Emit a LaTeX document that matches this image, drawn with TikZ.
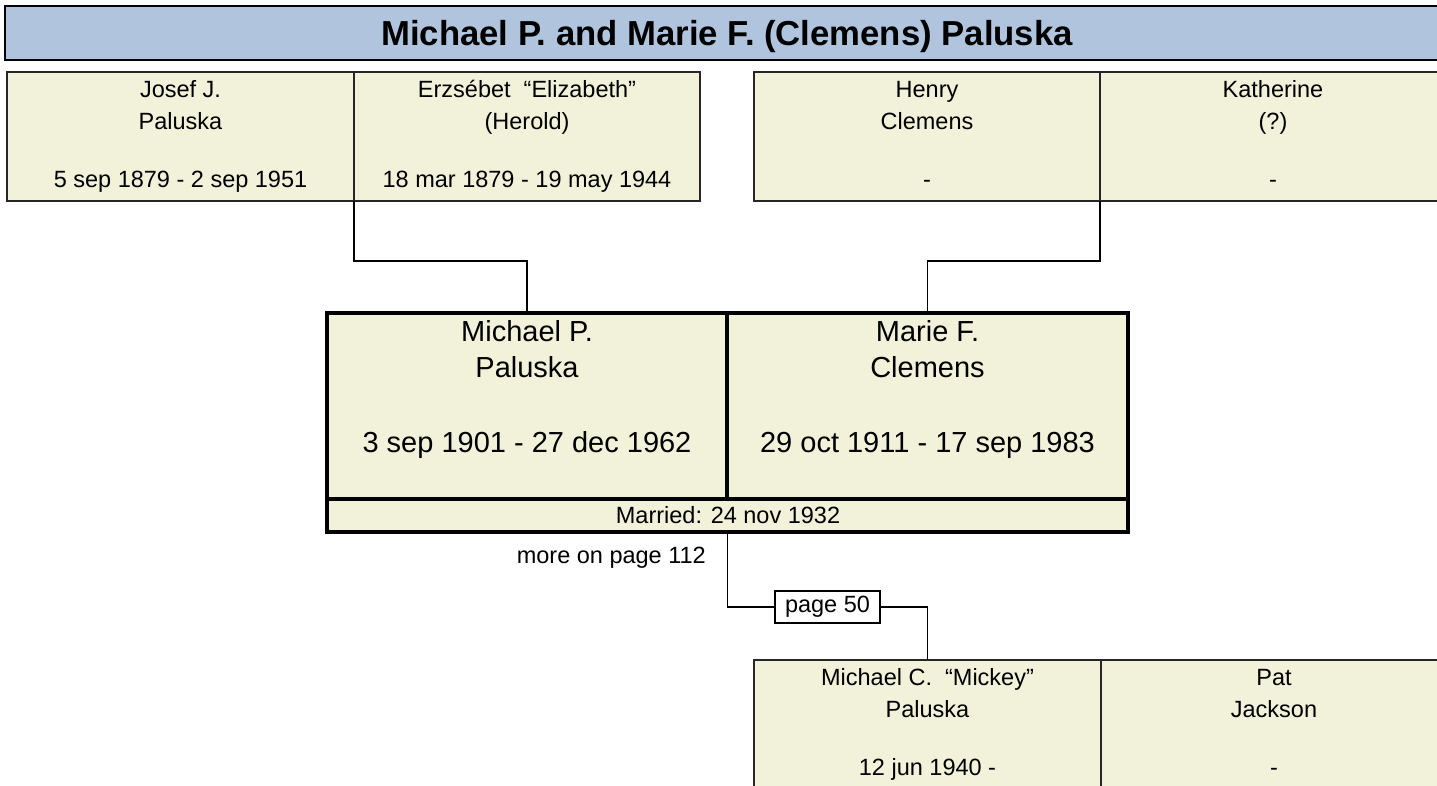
\documentclass[tikz,border=0pt]{standalone}
\usepackage{fontspec}
\setmainfont{Liberation Sans}
\definecolor{boxfill}{RGB}{242,242,218}
\definecolor{ttlblue}{RGB}{176,196,222}
\tikzset{
  personbox/.style={draw=black!85, line width=1.6pt, fill=boxfill, rectangle, inner sep=0pt, outer sep=0pt, anchor=north west},
  couplebox/.style={draw=black, line width=3.4pt, fill=boxfill, rectangle, inner sep=0pt, outer sep=0pt, anchor=north west},
  titlebox/.style={draw=black, line width=2.6pt, fill=ttlblue, rectangle, inner sep=0pt, outer sep=0pt, anchor=north west},
  pagebox/.style={draw=black, line width=1.8pt, fill=white, rectangle, inner sep=0pt, outer sep=0pt, minimum width=105pt, minimum height=32pt, font=\fontsize{23.5}{28}\selectfont},
  smalltxt/.style={anchor=base, inner sep=0pt, font=\fontsize{23.5}{28}\selectfont},
  bigtxt/.style={anchor=base, inner sep=0pt, font=\fontsize{29}{34}\selectfont},
  titletxt/.style={anchor=base, inner sep=0pt, font=\fontsize{34.7}{40}\selectfont\bfseries},
  conn/.style={draw=black, line width=1.8pt}
}
\begin{document}
\begin{tikzpicture}[x=1pt,y=-1pt]
\useasboundingbox (0,0) rectangle (1437,785);
\clip (0,0) rectangle (1437,785);
\fill[white] (0,0) rectangle (1437,785);

% title band
\node[titlebox, minimum width=1445pt, minimum height=54pt] (title) at (5,6) {};
\node[titletxt] (titletext) at (727,45) {Michael P. and Marie F. (Clemens) Paluska};

% grandparents
\node[personbox, minimum width=347pt, minimum height=129pt] (jp) at (7,72) {};
\node[personbox, minimum width=346pt, minimum height=129pt] (eh) at (354,72) {};
\node[personbox, minimum width=346pt, minimum height=129pt] (hc) at (754,72) {};
\node[personbox, minimum width=346pt, minimum height=129pt] (kq) at (1100,72) {};

\node[smalltxt] (jp1) at (180.5,97) {Josef J.};
\node[smalltxt] (jp2) at (180.5,129) {Paluska};
\node[smalltxt] (jp3) at (180.5,187) {5 sep 1879 - 2 sep 1951};

\node[smalltxt] (eh1) at (527,97) {Erzsébet\ \ “Elizabeth”};
\node[smalltxt] (eh2) at (527,129) {(Herold)};
\node[smalltxt] (eh3) at (527,187) {18 mar 1879 - 19 may 1944};

\node[smalltxt] (hc1) at (927,97) {Henry};
\node[smalltxt] (hc2) at (927,129) {Clemens};
\node[smalltxt] (hc3) at (927,187) {-};

\node[smalltxt] (kq1) at (1273,97) {Katherine};
\node[smalltxt] (kq2) at (1273,129) {(?)};
\node[smalltxt] (kq3) at (1273,187) {-};

% couple
\node[couplebox, minimum width=400pt, minimum height=186pt] (mp) at (327,313) {};
\node[couplebox, minimum width=401pt, minimum height=186pt] (mf) at (727,313) {};
\node[couplebox, minimum width=801pt, minimum height=33pt] (married) at (327,499) {};

\node[bigtxt] (mp1) at (527,341) {Michael P.};
\node[bigtxt] (mp2) at (527,377) {Paluska};
\node[bigtxt] (mp3) at (527,452) {3 sep 1901 - 27 dec 1962};

\node[bigtxt] (mf1) at (927.5,341) {Marie F.};
\node[bigtxt] (mf2) at (927.5,377) {Clemens};
\node[bigtxt] (mf3) at (927.5,452) {29 oct 1911 - 17 sep 1983};

\node[smalltxt] (mtxt) at (728,523) {Married: 24 nov 1932};
\node[smalltxt, anchor=base east] (more) at (706,563) {more on page 112};

% child
\node[personbox, minimum width=347pt, minimum height=140pt] (mc) at (754,660) {};
\node[personbox, minimum width=347pt, minimum height=140pt] (pj) at (1101,660) {};

\node[smalltxt] (mc1) at (927.5,685) {Michael C.\ \ “Mickey”};
\node[smalltxt] (mc2) at (927.5,717) {Paluska};
\node[smalltxt] (mc3) at (927.5,775) {12 jun 1940 -};

\node[smalltxt] (pj1) at (1274,685) {Pat};
\node[smalltxt] (pj2) at (1274,717) {Jackson};
\node[smalltxt] (pj3) at (1274,775) {-};

\node[pagebox] (pg) at (827.5,607) {page 50};

% connectors
\draw[conn] (jp.south east) -- ++(0,60) -| (mp.north);
\draw[conn] (hc.south east) -- ++(0,60) -| (mf.north);
\draw[conn] (married.south) |- (pg.west);
\draw[conn] (pg.east) -| (mc.north);
\end{tikzpicture}
\end{document}
